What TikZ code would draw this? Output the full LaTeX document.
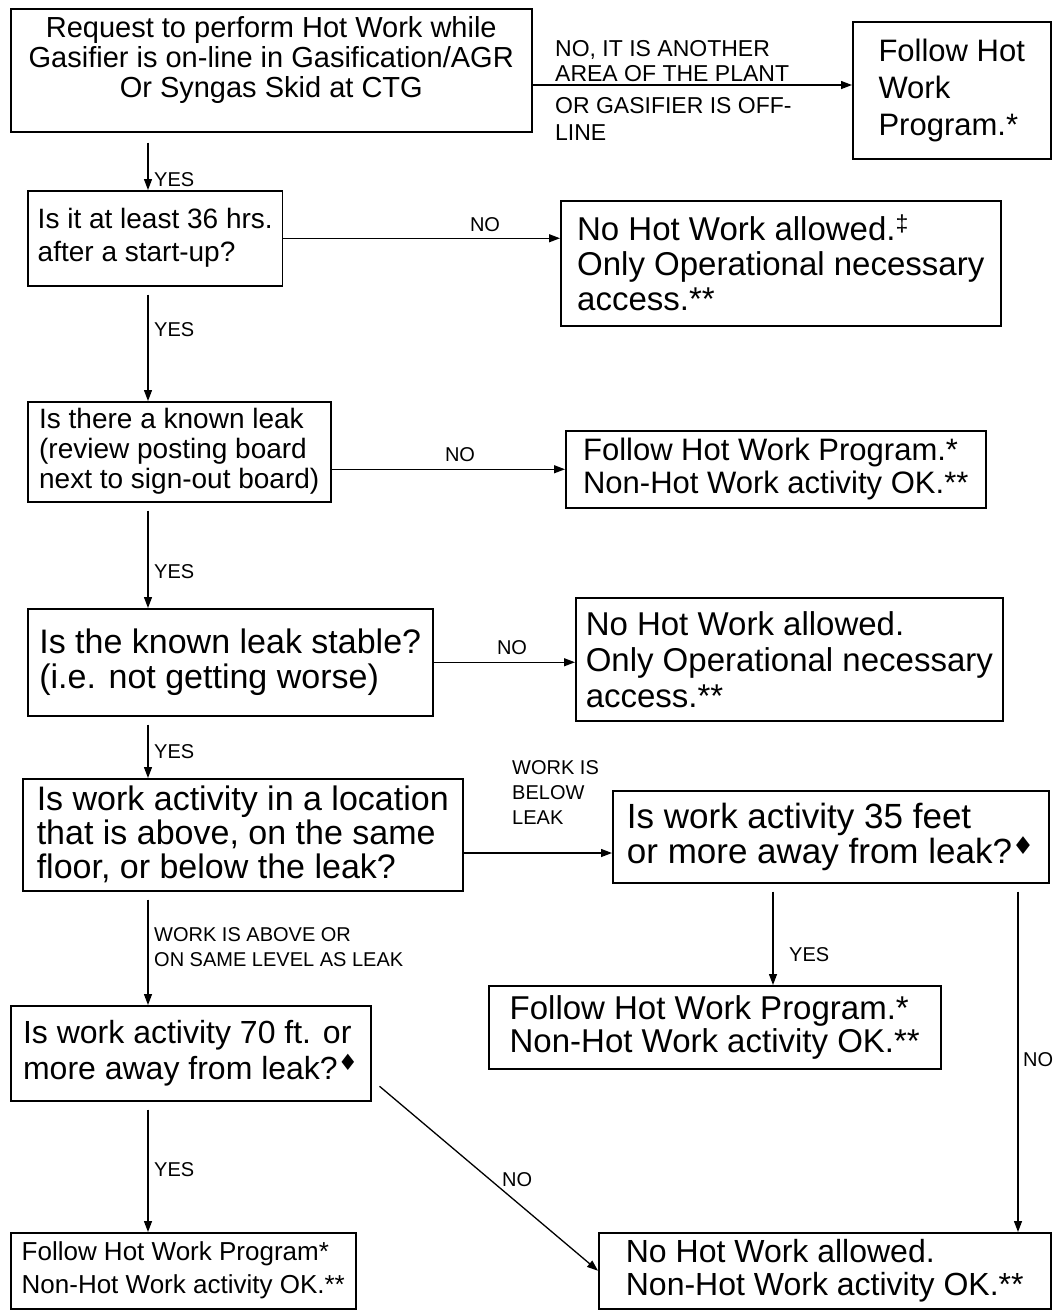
\documentclass[tikz,border=0pt]{standalone}
\usepackage{fontspec}
\setmainfont{Liberation Sans}
\newfontfamily\symfont{DejaVu Sans}
\usetikzlibrary{arrows.meta}
\newcommand{\fs}[2]{\fontsize{#1}{#2}\selectfont}

\begin{document}
\begin{tikzpicture}[x=1pt, y=-1pt, >={Triangle[length=11pt,width=8pt]},
    box/.style={draw, line width=1.5pt, anchor=north west, inner xsep=10pt, inner ysep=0pt, align=left},
    lbl/.style={inner sep=0pt, align=left, font=\fs{20}{25}},
    link/.style={->, line width=1.3pt}]
                \useasboundingbox (0,0) rectangle (1063,1310);

                % boxes
                \node[box, align=center, inner ysep=8pt, minimum width=521, font=\fs{29}{30}] (req) at (10,8)
                    {Request to perform Hot Work while\\Gasifier is on-line in Gasification/AGR\\Or Syngas Skid at CTG\rule[-26pt]{0pt}{26pt}};
                \node[box, minimum width=198, minimum height=137, font=\fs{31}{37}] (follow1) at (852,21)
                    {Follow Hot\\Work\\Program.*};
                \node[box, minimum width=250, minimum height=95, font=\fs{28}{33}] (hrs) at (27,190)
                    {Is it at least 36 hrs.\\after a start-up?};
                \node[box, minimum width=440, minimum height=125, font=\fs{33}{35}] (nohot1) at (560,200)
                    {No Hot Work allowed.\textsuperscript{‡}\\Only Operational necessary\\access.**};
                \node[box, minimum width=303, minimum height=100, font=\fs{28}{30}] (leak) at (27,401)
                    {Is there a known leak\\(review posting board\\next to sign-out board)};
                \node[box, minimum width=420, minimum height=77, font=\fs{31}{33}] (follow2) at (565,430)
                    {Follow Hot Work Program.*\\Non-Hot Work activity OK.**};
                \node[box, inner xsep=8pt, minimum width=405, minimum height=107, font=\fs{34}{35}] (stable) at (27,608)
                    {Is the known leak stable?\\(i.e. not getting worse)};
                \node[box, minimum width=425, minimum height=123, font=\fs{33}{36}] (nohot2) at (575,597)
                    {No Hot Work allowed.\\Only Operational necessary\\access.**};
                \node[box, minimum width=440, minimum height=112, font=\fs{34}{34}] (where) at (22,778)
                    {Is work activity in a location\\that is above, on the same\\floor, or below the leak?};
                \node[box, minimum width=436, minimum height=92, font=\fs{35}{35}] (feet35) at (612,790)
                    {Is work activity 35 feet\\or more away from leak?\textsuperscript{\symfont ♦}};
                \node[box, minimum width=452, minimum height=83, font=\fs{33}{33}] (follow3) at (488,985)
                    {Follow Hot Work Program.*\\Non-Hot Work activity OK.**};
                \node[box, minimum width=360, minimum height=95, font=\fs{32}{36}] (ft70) at (10,1005)
                    {Is work activity 70 ft. or\\more away from leak?\textsuperscript{\symfont ♦}};
                \node[box, inner xsep=8pt, minimum width=345, minimum height=76, font=\fs{26}{33}] (follow4) at (10,1232)
                    {Follow Hot Work Program*\\Non-Hot Work activity OK.**};
                \node[box, minimum width=452, minimum height=76, font=\fs{32}{33}] (nohot3) at (598,1232)
                    {No Hot Work allowed.\\Non-Hot Work activity OK.**};

                % labels
                \node[lbl, anchor=south west, font=\fs{23}{25}] (offa) at (555,82) {NO, IT IS ANOTHER\\AREA OF THE PLANT};
                \node[lbl, anchor=north west, font=\fs{23}{27}] (offb) at (555,97) {OR GASIFIER IS OFF-\\LINE};
                \node[lbl, anchor=west] (yes1) at (154,180) {YES};
                \node[lbl] (no1) at (485,225) {NO};
                \node[lbl, anchor=west] (yes2) at (154,330) {YES};
                \node[lbl] (no2) at (460,455) {NO};
                \node[lbl, anchor=west] (yes3) at (154,572) {YES};
                \node[lbl] (no3) at (512,648) {NO};
                \node[lbl, anchor=west] (yes4) at (154,752) {YES};
                \node[lbl, anchor=north west] (below) at (512,760) {WORK IS\\BELOW\\LEAK};
                \node[lbl, anchor=north west] (above) at (154,927) {WORK IS ABOVE OR\\ON SAME LEVEL AS LEAK};
                \node[lbl, anchor=west] (yes5) at (789,955) {YES};
                \node[lbl, anchor=west] (no4) at (1023,1060) {NO};
                \node[lbl, anchor=west] (yes6) at (154,1170) {YES};
                \node[lbl, anchor=west] (no5) at (502,1180) {NO};

                % connectors
                \coordinate (spine) at (148,0);
                \coordinate (toprow) at (0,85);
                \coordinate (midrow) at (0,853);
                \coordinate (yesx) at (773,0);
                \coordinate (nox) at (1018,0);

                \draw[link] (req.east |- toprow) -- (follow1.west |- toprow);
                \draw[link, shorten <=10pt] (req.south -| spine) -- (hrs.north -| spine);
                \draw[link] (hrs.east) -- (hrs.east -| nohot1.west);
                \draw[link, shorten <=8pt] (hrs.south -| spine) -- (leak.north -| spine);
                \draw[link] (leak.east |- follow2.west) -- (follow2.west);
                \draw[link, shorten <=8pt] (leak.south -| spine) -- (stable.north -| spine);
                \draw[link] (stable.east) -- (stable.east -| nohot2.west);
                \draw[link, shorten <=8pt] (stable.south -| spine) -- (where.north -| spine);
                \draw[link] (where.east |- midrow) -- (feet35.west |- midrow);
                \draw[link, shorten <=8pt] (where.south -| spine) -- (ft70.north -| spine);
                \draw[link, shorten <=8pt] (feet35.south -| yesx) -- (follow3.north -| yesx);
                \draw[link, shorten <=8pt] (feet35.south -| nox) -- (nohot3.north -| nox);
                \draw[link, shorten <=8pt] (ft70.south -| spine) -- (follow4.north -| spine);
                \draw[link] ([xshift=8pt, yshift=-33pt]ft70.east) -- (nohot3.west);
            \end{tikzpicture}
\end{document}
